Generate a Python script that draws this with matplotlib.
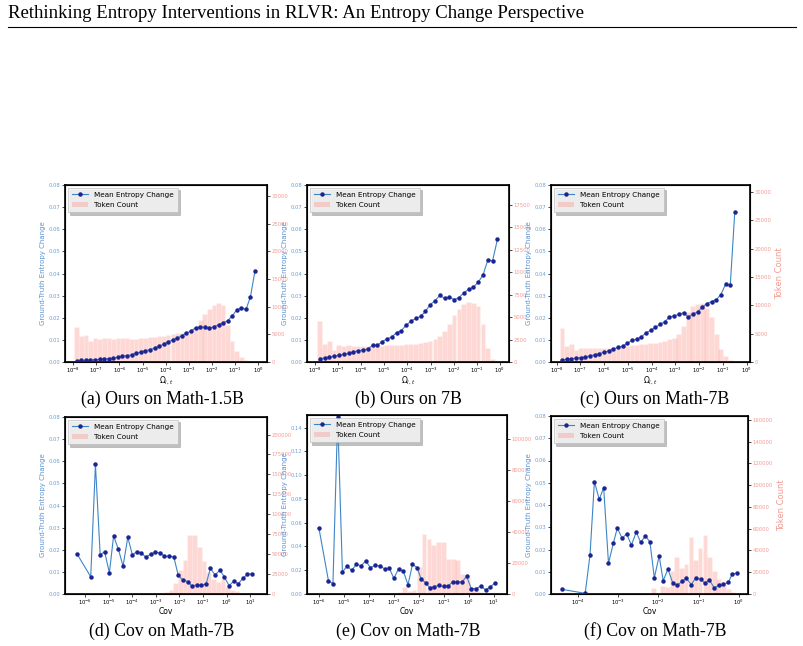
import matplotlib
matplotlib.use("Agg")
import matplotlib.pyplot as plt
from matplotlib.ticker import LogLocator, NullLocator, MultipleLocator, FormatStrFormatter
from matplotlib.lines import Line2D
from matplotlib.patches import Patch

# x positions are given as log10 of the bin centre

# (a) Ours on Math-1.5B
a_x = [-7.85, -7.65, -7.45, -7.26, -7.06, -6.86, -6.66, -6.46, -6.27, -6.07,
       -5.87, -5.67, -5.47, -5.28, -5.08, -4.88, -4.68, -4.48, -4.29, -4.09,
       -3.89, -3.69, -3.49, -3.30, -3.10, -2.90, -2.70, -2.50, -2.31, -2.11,
       -1.91, -1.71, -1.51, -1.32, -1.12, -0.92, -0.72, -0.52, -0.33, -0.13]
a_entropy = [0.0006, 0.0007, 0.0008, 0.0009, 0.0011, 0.0012, 0.0014, 0.0015, 0.0018, 0.0021,
             0.0026, 0.0029, 0.0033, 0.0039, 0.0045, 0.0051, 0.0056, 0.0063, 0.0072, 0.0080,
             0.0091, 0.0100, 0.0109, 0.0118, 0.0131, 0.0140, 0.0155, 0.0158, 0.0157, 0.0152,
             0.0160, 0.0168, 0.0178, 0.0186, 0.0208, 0.0235, 0.0245, 0.0238, 0.0293, 0.0412]
a_tokens = [6340, 4700, 4950, 3740, 4350, 4170, 4290, 4350, 4230, 4290,
            4290, 4350, 4230, 4170, 4290, 4410, 4470, 4530, 4650, 4770,
            4890, 5070, 5190, 5250, 5310, 5800, 6340, 7550, 8760, 9540,
            10270, 10750, 10270, 6640, 3800, 2000, 900, 420, 120, 30]

# (b) Ours on 7B
b_x = [-7.80, -7.59, -7.38, -7.18, -6.97, -6.76, -6.55, -6.34, -6.14, -5.93,
       -5.72, -5.51, -5.30, -5.10, -4.89, -4.68, -4.47, -4.26, -4.06, -3.85,
       -3.64, -3.43, -3.22, -3.02, -2.81, -2.60, -2.39, -2.18, -1.98, -1.77,
       -1.56, -1.35, -1.14, -0.94, -0.73, -0.52, -0.31, -0.10]
b_entropy = [0.0015, 0.0018, 0.0023, 0.0026, 0.0030, 0.0035, 0.0039, 0.0045, 0.0051, 0.0054,
             0.0059, 0.0075, 0.0075, 0.0092, 0.0104, 0.0113, 0.0133, 0.0142, 0.0166, 0.0184,
             0.0197, 0.0206, 0.0229, 0.0259, 0.0276, 0.0301, 0.0288, 0.0294, 0.0282, 0.0291,
             0.0312, 0.0328, 0.0338, 0.0360, 0.0392, 0.0460, 0.0458, 0.0555]
b_tokens = [4530, 1970, 2300, 1300, 1860, 1780, 1860, 1780, 1750, 1780,
            1780, 1780, 1800, 1800, 1860, 1860, 1890, 1930, 1970, 2000,
            2040, 2080, 2190, 2340, 2600, 2900, 3450, 4200, 5270, 5940,
            6500, 6650, 6610, 6200, 4270, 1560, 370, 110]

# (c) Ours on Math-7B
c_x = [-7.78, -7.58, -7.39, -7.19, -6.99, -6.80, -6.60, -6.40, -6.21, -6.01,
       -5.81, -5.61, -5.42, -5.22, -5.02, -4.83, -4.63, -4.43, -4.24, -4.04,
       -3.84, -3.65, -3.45, -3.25, -3.05, -2.86, -2.66, -2.46, -2.27, -2.07,
       -1.87, -1.68, -1.48, -1.28, -1.09, -0.89, -0.69, -0.50]
c_entropy = [0.0009, 0.0012, 0.0015, 0.0017, 0.0020, 0.0023, 0.0027, 0.0033, 0.0038, 0.0044,
             0.0050, 0.0059, 0.0066, 0.0072, 0.0084, 0.0099, 0.0102, 0.0115, 0.0131, 0.0143,
             0.0157, 0.0170, 0.0182, 0.0203, 0.0209, 0.0215, 0.0223, 0.0203, 0.0217, 0.0226,
             0.0247, 0.0264, 0.0273, 0.0282, 0.0304, 0.0351, 0.0348, 0.0680]
c_tokens = [5930, 2760, 3110, 2050, 2410, 2410, 2520, 2410, 2410, 2460,
            2520, 2640, 2700, 2820, 2880, 2940, 3000, 3110, 3230, 3350,
            3400, 3520, 3700, 4050, 4170, 4990, 6400, 8740, 9860, 10210,
            10450, 9510, 7860, 4870, 2350, 1060, 290, 60]

# (d) Cov on Math-7B
d_x = [-6.35, -5.76, -5.56, -5.36, -5.17, -4.97, -4.79, -4.59, -4.39, -4.19,
       -3.99, -3.81, -3.61, -3.42, -3.22, -3.02, -2.82, -2.64, -2.44, -2.24,
       -2.05, -1.85, -1.65, -1.47, -1.27, -1.07, -0.87, -0.69, -0.49, -0.29,
       -0.10, 0.10, 0.30, 0.50, 0.69, 0.88, 1.08]
d_entropy = [0.0183, 0.0078, 0.0586, 0.0177, 0.0191, 0.0096, 0.0262, 0.0203, 0.0126, 0.0256,
             0.0176, 0.0192, 0.0186, 0.0165, 0.0182, 0.0188, 0.0186, 0.0171, 0.0171, 0.0168,
             0.0084, 0.0063, 0.0056, 0.0036, 0.0041, 0.0039, 0.0045, 0.0116, 0.0086, 0.0108,
             0.0078, 0.0038, 0.0057, 0.0047, 0.0071, 0.0089, 0.0092]
d_bar_x = [-3.6, -3.4, -3.2, -3.0, -2.8, -2.56, -2.36, -2.16, -1.96, -1.76, -1.56, -1.36,
           -1.16, -0.96, -0.76, -0.56, -0.36, -0.16, 0.04, 0.24, 0.44, 0.64, 0.84]
d_tokens = [100, 200, 300, 500, 1200, 2900, 5000, 14200, 29700, 42600, 74000, 74000,
            58500, 41400, 27200, 18800, 15500, 18800, 9200, 4600, 3800, 1700, 500]

# (e) Cov on Math-7B
e_x = [-6.0, -5.62, -5.44, -5.25, -5.06, -4.87, -4.69, -4.50, -4.31, -4.12,
       -3.94, -3.75, -3.56, -3.37, -3.18, -3.0, -2.81, -2.62, -2.43, -2.25,
       -2.06, -1.90, -1.72, -1.55, -1.38, -1.19, -1.0, -0.81, -0.64, -0.45,
       -0.26, -0.08, 0.11, 0.30, 0.49, 0.68, 0.86, 1.04]
e_entropy = [0.0552, 0.0112, 0.0087, 0.149, 0.0185, 0.0235, 0.0199, 0.0249, 0.0238, 0.0280,
             0.0221, 0.0241, 0.0235, 0.0213, 0.0218, 0.0132, 0.0210, 0.0193, 0.0078, 0.0249,
             0.0221, 0.0123, 0.0095, 0.0050, 0.0062, 0.0073, 0.0064, 0.0070, 0.0101, 0.0101,
             0.0101, 0.0148, 0.0045, 0.0045, 0.0067, 0.0034, 0.0059, 0.0090]
e_bar_x = [-3.16, -2.96, -2.76, -2.58, -2.38, -2.19, -1.98, -1.79, -1.59, -1.40, -1.20,
           -1.01, -0.81, -0.62, -0.44, -0.24, -0.05, 0.15, 0.34, 0.53, 0.73]
e_tokens = [650, 870, 1100, 4700, 1700, 2400, 17200, 38700, 35700, 31400, 33800,
            33800, 22800, 22600, 21700, 13100, 10800, 4300, 2600, 1100, 650]

# (f) Cov on Math-7B
f_x = [-4.40, -3.82, -3.70, -3.59, -3.47, -3.36, -3.24, -3.12, -3.02, -2.90,
       -2.79, -2.67, -2.55, -2.44, -2.32, -2.21, -2.10, -1.98, -1.88, -1.76,
       -1.64, -1.53, -1.41, -1.30, -1.18, -1.07, -0.95, -0.84, -0.73, -0.61,
       -0.50, -0.38, -0.26, -0.16, -0.04]
f_entropy = [0.0021, 0.0003, 0.0175, 0.0505, 0.0425, 0.0478, 0.0138, 0.0228, 0.0297, 0.0250,
             0.0271, 0.0219, 0.0279, 0.0232, 0.0261, 0.0234, 0.0073, 0.0171, 0.0060, 0.0112,
             0.0048, 0.0039, 0.0057, 0.0070, 0.0042, 0.0073, 0.0066, 0.0048, 0.0064, 0.0027,
             0.0039, 0.0043, 0.0052, 0.0091, 0.0093]
f_bar_x = [-2.41, -2.29, -2.12, -2.01, -1.89, -1.78, -1.66, -1.55, -1.42, -1.31,
           -1.19, -1.07, -0.96, -0.84, -0.73, -0.61, -0.50, -0.38, -0.26, -0.14]
f_tokens = [300, 600, 5200, 1200, 7700, 6700, 21100, 34000, 23900, 27500,
            52300, 31200, 42200, 54200, 34000, 21100, 14100, 10700, 4600, 1800]

captions = ["(a) Ours on Math-1.5B", "(b) Ours on 7B", "(c) Ours on Math-7B",
            "(d) Cov on Math-7B", "(e) Cov on Math-7B", "(f) Cov on Math-7B"]

LINE_C = "#3d85c6"
MARK_C = "#1c2494"
LEFT_TICK_C = "#6a9fd8"
LEFT_LAB_C = "#5b93d0"
RIGHT_C = "#f39a92"

W, H = 804, 646
fig = plt.figure(figsize=(W / 100, H / 100), dpi=100)


def px_rect(x0, x1, y0, y1):
    # pixel box -> figure fraction
    return [x0 / W, 1 - y1 / H, (x1 - x0) / W, (y1 - y0) / H]


def draw_panel(rect, lx, ly, bx, bh, bw, xlim, ytop, rtop, ystep, rstep,
               xlabel, right_label=False):
    ax = fig.add_axes(rect)
    ax2 = ax.twinx()
    ax.set_zorder(ax2.get_zorder() + 1)
    ax.patch.set_visible(False)

    left = [10 ** (v - bw / 2) for v in bx]
    width = [10 ** (v + bw / 2) - 10 ** (v - bw / 2) for v in bx]
    ax2.bar(left, bh, width=width, align="edge", color="salmon", alpha=0.3,
            edgecolor="white", linewidth=0.4)
    ax.plot([10 ** v for v in lx], ly, color=LINE_C, lw=0.8, marker="o",
            markersize=2.2, markerfacecolor=MARK_C, markeredgecolor=MARK_C)

    ax.set_xscale("log")
    ax.set_xlim(10 ** xlim[0], 10 ** xlim[1])
    ax.xaxis.set_major_locator(LogLocator(base=10, numticks=20))
    ax.xaxis.set_minor_locator(NullLocator())
    ax.set_ylim(0, ytop)
    ax2.set_ylim(0, rtop)
    ax.yaxis.set_major_locator(MultipleLocator(ystep))
    ax.yaxis.set_major_formatter(FormatStrFormatter("%.2f"))
    ax2.yaxis.set_major_locator(MultipleLocator(rstep))
    ax2.yaxis.set_major_formatter(FormatStrFormatter("%d"))

    ax.tick_params(axis="x", labelsize=3.8, length=2, width=0.5, pad=0.8)
    ax.tick_params(axis="y", labelsize=3.8, length=2, width=0.5, pad=1.5,
                   labelcolor=LEFT_TICK_C)
    ax2.tick_params(axis="y", labelsize=3.8, length=2, width=0.5, pad=1.2,
                    labelcolor=RIGHT_C)
    for sp in ax2.spines.values():
        sp.set_linewidth(1.2)

    ax.set_xlabel(xlabel, fontsize=5.5, labelpad=0)
    ax.set_ylabel("Ground-Truth Entropy Change", fontsize=5, color=LEFT_LAB_C, labelpad=2)
    if right_label:
        ax2.set_ylabel("Token Count", fontsize=6, color=RIGHT_C, labelpad=3)

    handles = [Line2D([], [], color=LINE_C, lw=0.8, marker="o", markersize=2.2,
                      markerfacecolor=MARK_C, markeredgecolor=MARK_C),
               Patch(facecolor="salmon", alpha=0.3)]
    leg = ax.legend(handles, ["Mean Entropy Change", "Token Count"], loc="upper left",
                    fontsize=5.2, shadow={"color": "0.5", "alpha": 0.5}, fancybox=False,
                    framealpha=0.9, borderpad=0.6, handlelength=2.2, labelspacing=0.5,
                    borderaxespad=0.35)
    leg.get_frame().set_facecolor("#f2f2f2")
    leg.get_frame().set_edgecolor("#bbbbbb")
    leg.get_frame().set_linewidth(0.5)
    return ax


omega = r"$\Omega_{i,t}$"
draw_panel(px_rect(65, 267, 185, 362), a_x, a_entropy, a_x, a_tokens, 0.198,
           (-8.36, 0.39), 0.08, 32000, 0.01, 5000, omega)
draw_panel(px_rect(307, 509, 185, 362), b_x, b_entropy, b_x, b_tokens, 0.207,
           (-8.35, 0.40), 0.08, 19700, 0.01, 2500, omega)
draw_panel(px_rect(551, 750, 185, 362), c_x, c_entropy, c_x, c_tokens, 0.197,
           (-8.24, 0.14), 0.08, 31200, 0.01, 5000, omega, right_label=True)
draw_panel(px_rect(65, 267, 417, 594), d_x, d_entropy, d_bar_x, d_tokens, 0.2,
           (-6.85, 1.71), 0.08, 222000, 0.01, 25000, "Cov")
draw_panel(px_rect(307, 507, 415, 594), e_x, e_entropy, e_bar_x, e_tokens, 0.19,
           (-6.48, 1.54), 0.1507, 115700, 0.02, 20000, "Cov")
draw_panel(px_rect(551, 748, 416, 594), f_x, f_entropy, f_bar_x, f_tokens, 0.115,
           (-4.67, 0.23), 0.08, 163500, 0.01, 20000, "Cov", right_label=True)

# header and captions
serif = ["Liberation Serif", "DejaVu Serif"]
fig.text(8 / W, 1 - 14 / H, "Rethinking Entropy Interventions in RLVR: An Entropy Change Perspective",
         fontsize=13.5, family=serif, ha="left", va="center")
fig.add_artist(Line2D([8 / W, 796 / W], [1 - 27 / H, 1 - 27 / H], color="black", lw=0.8))

cap_x = [162, 408, 655, 162, 408, 655]
cap_y = [399, 399, 399, 631, 631, 631]
for t, cx, cy in zip(captions, cap_x, cap_y):
    fig.text(cx / W, 1 - cy / H, t, fontsize=12.8, family=serif, ha="center", va="center")

fig.savefig("out.png", dpi=100)
